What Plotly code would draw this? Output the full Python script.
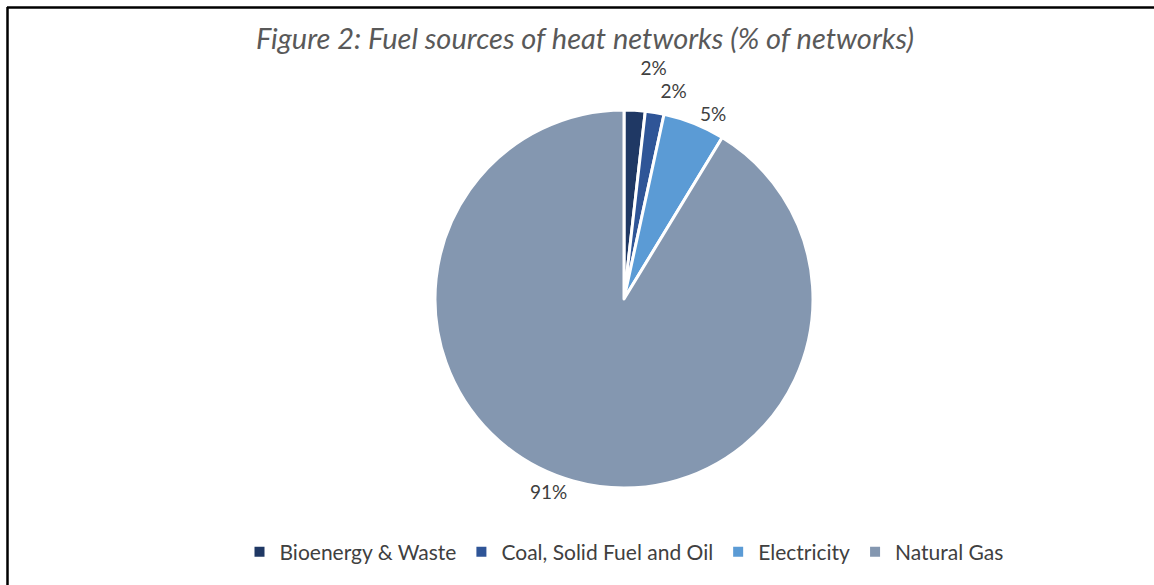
"""
Fuel sources of heat networks - pie chart
"""

import plotly.graph_objects as go

W, H = 1154, 585

labels = ["Bioenergy & Waste", "Coal, Solid Fuel and Oil", "Electricity", "Natural Gas"]
shares = [1.8, 1.6, 5.3, 91.3]
colors = ["#1F3864", "#2F5597", "#5B9BD5", "#8497B0"]

fig = go.Figure()

fig.add_trace(go.Pie(
    labels=labels,
    values=shares,
    sort=False,
    direction="clockwise",
    rotation=0,
    marker=dict(colors=colors, line=dict(color="white", width=3)),
    textposition="outside",
    texttemplate="%{percent:.0%}",
    textfont=dict(family="Lato", size=19, color="#404040"),
    domain=dict(x=[435 / W, 813 / W], y=[(H - 488) / H, (H - 110) / H]),
    hoverinfo="label+percent",
))

# chart frame (top and left edges only)
fig.add_shape(type="line", xref="paper", yref="paper",
              x0=7 / W, x1=1.01, y0=1 - 7.5 / H, y1=1 - 7.5 / H,
              line=dict(color="black", width=2.5))
fig.add_shape(type="line", xref="paper", yref="paper",
              x0=7.5 / W, x1=7.5 / W, y0=-0.01, y1=1 - 7 / H,
              line=dict(color="black", width=2.5))

fig.update_layout(
    width=W,
    height=H,
    margin=dict(l=0, r=0, t=0, b=0),
    paper_bgcolor="white",
    plot_bgcolor="white",
    font=dict(family="Lato", color="#404040"),
    title=dict(
        text="<i>Figure 2: Fuel sources of heat networks (% of networks)</i>",
        x=585 / W, xanchor="center",
        y=1 - 39 / H, yanchor="middle",
        font=dict(family="Lato", size=29, color="#595959"),
    ),
    legend=dict(
        orientation="h",
        x=624 / W, xanchor="center",
        y=1 - 552 / H, yanchor="middle",
        font=dict(family="Lato", size=21, color="#404040"),
        itemsizing="constant",
        itemwidth=30,
    ),
)

# page without body margin, and no leader lines on the outside labels
post = (
    "document.body.style.margin='0';"
    "var s=document.createElement('style');"
    "s.textContent='.textline{display:none !important}';"
    "document.head.appendChild(s);"
)

fig.write_html("out.html", post_script=post, config={"displayModeBar": False})
